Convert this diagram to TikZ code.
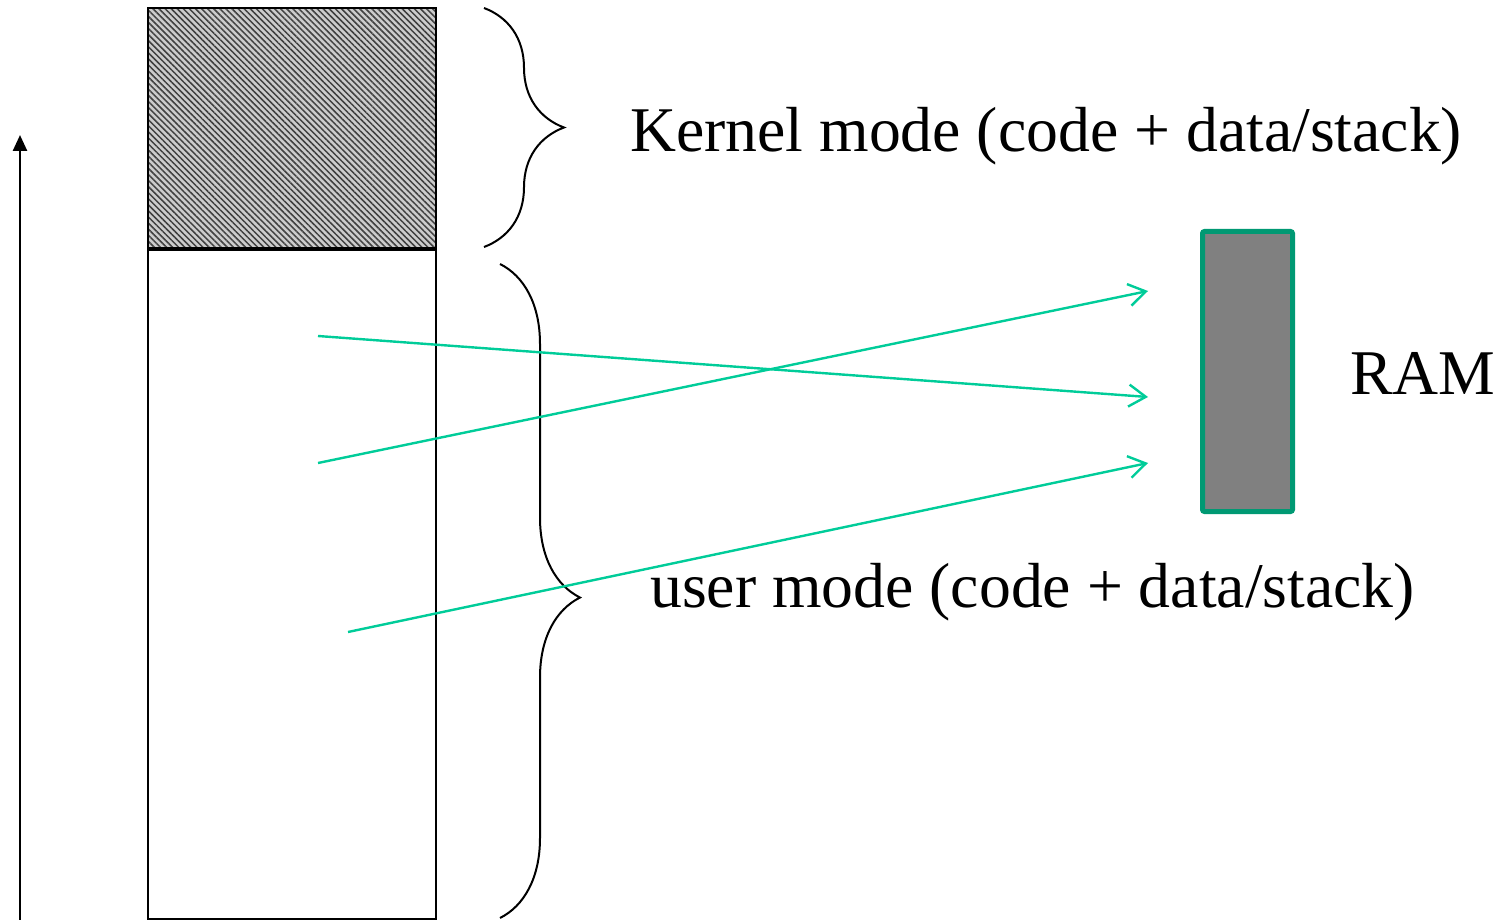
\documentclass[tikz,border=0pt]{standalone}
\usepackage{fontspec}
\setmainfont{Liberation Serif}
\usetikzlibrary{arrows.meta,decorations.pathreplacing,patterns.meta}
\definecolor{arrgreen}{RGB}{0,204,153}
\definecolor{ramgreen}{RGB}{0,153,115}
\definecolor{ramgray}{RGB}{128,128,128}
\tikzset{
  bigtext/.style={font=\fontsize{63.7}{70}\selectfont, inner sep=0pt},
  maparrow/.style={draw=arrgreen, line width=2.4pt, -{Straight Barb[length=17pt,width=22pt,line width=2.4pt]}},
  bracestyle/.style={draw=black, line width=2pt, decorate, decoration={brace, amplitude=80pt, aspect=#1}},
}
\begin{document}
\begin{tikzpicture}[x=1pt,y=-1pt]
\useasboundingbox (0,0) rectangle (1505,920);
% address axis
\coordinate (axbot) at (20,920);
\coordinate (axtop) at (20,135);
\draw[line width=2.5pt, -{Triangle[length=16pt,width=14pt]}] (axbot) -- (axtop);
% memory column
\node[draw=black, line width=1.8pt, outer sep=0pt, preaction={fill=ramgray!40}, pattern={Lines[angle=-45,distance=4.3pt,line width=1.5pt]}, pattern color=black!75, minimum width=288pt, minimum height=241pt, anchor=north west, inner sep=0pt] (kern) at (148,8) {};
\node[draw=black, line width=1.8pt, outer sep=0pt, minimum width=288pt, minimum height=670pt, anchor=north west, inner sep=0pt] (user) at (148,249) {};
\draw[line width=4.5pt] (kern.south west) -- (kern.south east);
% braces
\coordinate (b1t) at (484,8);
\coordinate (b1b) at (484,247);
\draw[bracestyle=0.5] (b1t) -- (b1b);
\coordinate (b2t) at (500,264);
\coordinate (b2b) at (500,918);
\draw[bracestyle=0.51] (b2t) -- (b2b);
% labels
\node[bigtext, anchor=base west] (klabel) at (630,152) {Kernel mode (code + data/stack)};
\node[bigtext, anchor=base west] (ulabel) at (650,607) {user mode (code + data/stack)};
\node[bigtext, anchor=base west] (ramlabel) at (1350,394) {RAM};
% RAM
\node[draw=ramgreen, fill=ramgray, line width=5pt, outer sep=0pt, rounded corners=2pt, minimum width=90pt, minimum height=280pt, anchor=north west, inner sep=0pt] (ram) at (1202.5,231.5) {};
% mappings
\coordinate (s1) at (318,336);
\coordinate (e1) at (1148,397);
\coordinate (s2) at (318,463);
\coordinate (e2) at (1148,291);
\coordinate (s3) at (348,632);
\coordinate (e3) at (1148,463);
\draw[maparrow] (s1) -- (e1);
\draw[maparrow] (s2) -- (e2);
\draw[maparrow] (s3) -- (e3);
\end{tikzpicture}
\end{document}
